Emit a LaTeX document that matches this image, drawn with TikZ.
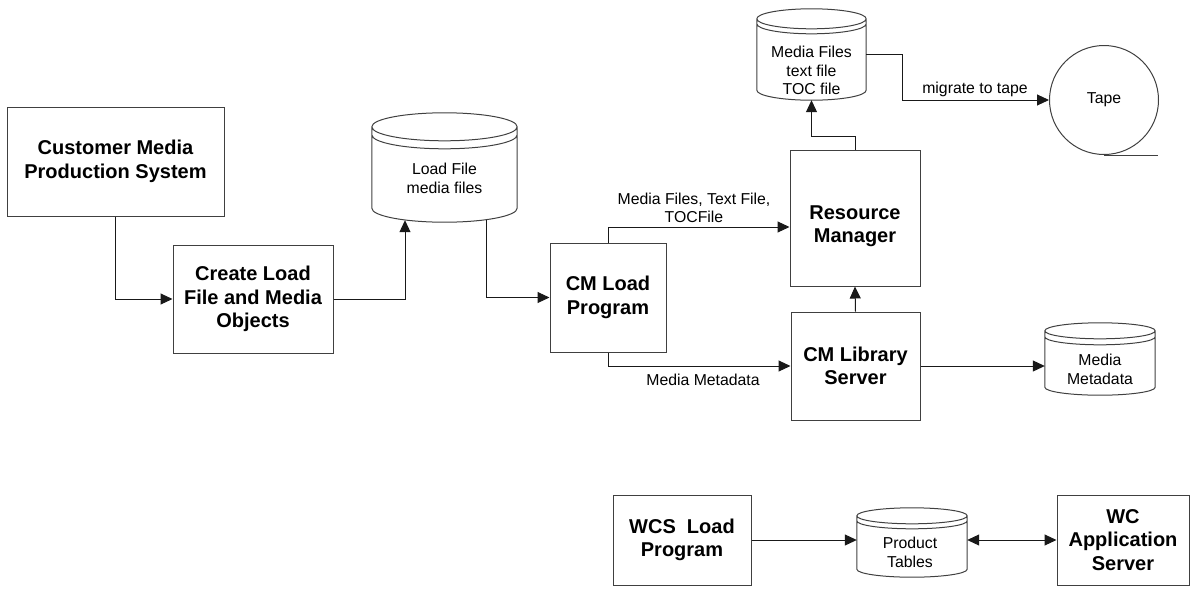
\documentclass[tikz,border=0pt]{standalone}
\usepackage{fontspec}
\setmainfont{Liberation Sans}
\usetikzlibrary{arrows.meta,calc}
\newcommand\drawdb[3]{%
  \draw[dbline] let \p1=(#1.north west), \p2=(#1.south east), \n1={(\x2-\x1)/2} in
    (\x1,\y1-#2) -- (\x1,\y2+#2)
    arc[start angle=180,end angle=360,x radius={\n1*1pt},y radius=#2]
    -- (\x2,\y1-#2)
    arc[start angle=0,end angle=180,x radius={\n1*1pt},y radius=#2]
    (\x1,\y1-#2) arc[start angle=180,end angle=360,x radius={\n1*1pt},y radius=#2]
    (\x1,\y1-#2-#3) arc[start angle=180,end angle=360,x radius={\n1*1pt},y radius=#2];
}
\begin{document}
\begin{tikzpicture}[x=1pt,y=-1pt,
  box/.style={draw=black!75,line width=1pt,inner sep=0pt,align=center,
    font=\bfseries\fontsize{20}{23.5}\selectfont},
  btxt/.style={inner sep=0pt,align=center,font=\bfseries\fontsize{20}{23.5}\selectfont},
  dbbox/.style={inner sep=0pt},
  lbl/.style={inner sep=0pt,align=center,font=\fontsize{15.8}{18.5}\selectfont},
  conn/.style={line width=1pt,draw=black!90,-{Triangle[length=12pt,width=11pt]}},
  dconn/.style={line width=1pt,draw=black!90,{Triangle[length=12pt,width=11pt]}-{Triangle[length=12pt,width=11pt]}},
  dbline/.style={draw=black!75,line width=1pt}]
\useasboundingbox (0,0) rectangle (1192,592);

% boxes
\node[box,minimum width=217pt,minimum height=109pt] (cms) at (115.5,161.5) {Customer Media\\Production System};
\node[box,minimum width=160pt,minimum height=108pt] (cl) at (253,299) {Create Load\\File and Media\\Objects};
\node[box,minimum width=116pt,minimum height=109pt] (cmload) at (608,297.5) {CM Load\\Program};
\node[box,minimum width=130pt,minimum height=136pt] (rm) at (855,218) {};
\node[btxt] (rmt) at ([yshift=-8pt]rm.center) {Resource\\Manager};
\node[box,minimum width=129pt,minimum height=108pt] (lib) at (855.5,366) {CM Library\\Server};
\node[box,minimum width=138pt,minimum height=90pt] (wcs) at (682,540) {WCS\ \ Load\\Program};
\node[box,minimum width=132pt,minimum height=90pt] (wc) at (1123,540) {WC\\Application\\Server};

% cylinders
\node[dbbox,minimum width=145pt,minimum height=109pt] (lf) at (444.5,167.5) {};
\drawdb{lf}{14pt}{8pt}
\node[lbl] (lft) at (444.5,178.5) {Load File\\media files};

\node[dbbox,minimum width=109pt,minimum height=91pt] (mf) at (811.5,54.5) {};
\drawdb{mf}{10pt}{5pt}
\node[lbl] (mft) at (811.5,70.5) {Media Files\\text file\\TOC file};

\node[dbbox,minimum width=110pt,minimum height=72pt] (mm) at (1100,359) {};
\drawdb{mm}{8pt}{6pt}
\node[lbl] (mmt) at (1100,369.5) {Media\\Metadata};

\node[dbbox,minimum width=110pt,minimum height=69pt] (pt) at (912,542.5) {};
\drawdb{pt}{8pt}{5pt}
\node[lbl] (ptt) at (910,552.5) {Product\\Tables};

% tape
\node[draw=black!75,line width=1pt,circle,minimum size=109pt,inner sep=0pt,
  font=\fontsize{15.8}{18.5}\selectfont] (tape) at (1104,100) {Tape};
\draw[dbline] (tape.south) -- ++(54,0);

% connectors
\draw[conn] (cms.south) |- (cl.west);
\draw[conn] (cl.east) -| ([xshift=-39.5pt,yshift=2pt]lf.south);
\draw[conn] ([xshift=41.5pt,yshift=2pt]lf.south) |- (cmload.west);
\draw[conn] (cmload.north) |- ([yshift=-9pt]rm.west);
\draw[conn] (cmload.south) |- (lib.west);
\draw[conn] (lib.north) -- (rm.south);
\draw[conn] (rm.north) -- ++(0,-13) -| (mf.south);
\draw[conn] (mf.east) -- ++(36,0) |- (tape.west);
\draw[conn] (lib.east) -- (lib.east -| mm.west);
\draw[conn] (wcs.east) -- (wcs.east -| pt.west);
\draw[dconn] (pt.east |- wc.west) -- (wc.west);

% edge labels
\node[lbl] (l1) at (694,208) {Media Files, Text File,\\TOCFile};
\node[lbl] (l2) at (703,380) {Media Metadata};
\node[lbl] (l3) at (975,89) {migrate to tape};
\end{tikzpicture}
\end{document}
